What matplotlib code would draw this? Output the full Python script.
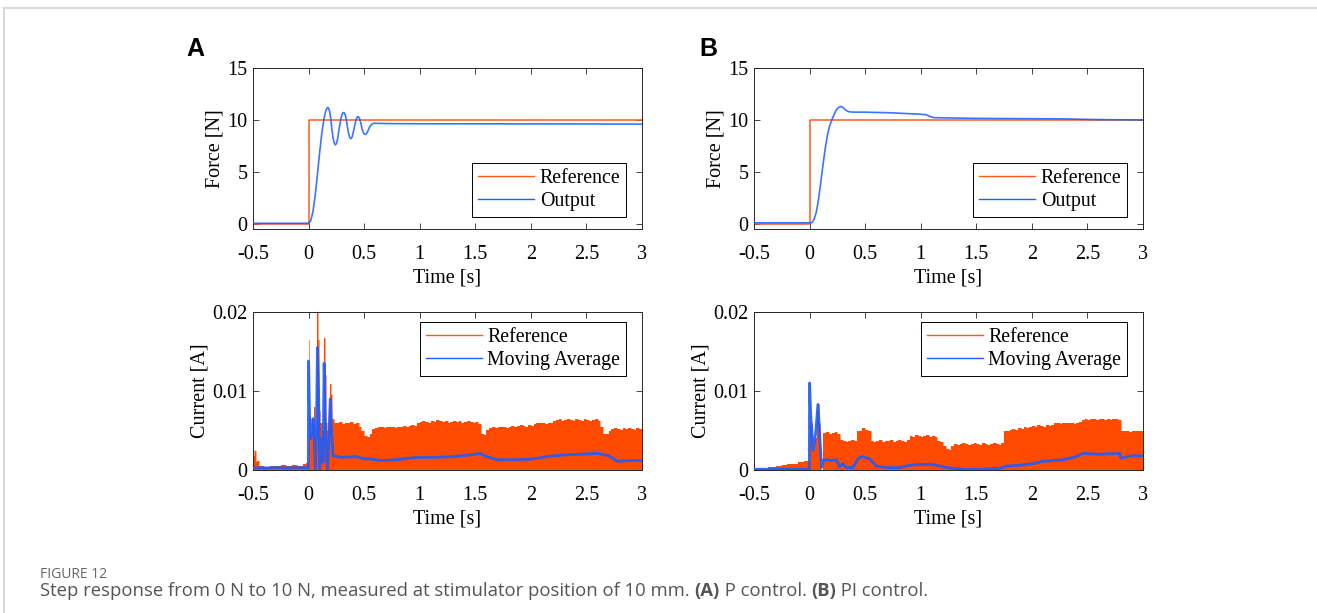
import numpy as np
import matplotlib
matplotlib.use("Agg")
import matplotlib.pyplot as plt
from matplotlib.lines import Line2D

# ---------------- data ----------------
x_ticks = [-0.5, 0, 0.5, 1, 1.5, 2, 2.5, 3]
x_ticklabels = ["-0.5", "0", "0.5", "1", "1.5", "2", "2.5", "3"]
force_ticks = [0, 5, 10, 15]
current_ticks = [0, 0.01, 0.02]
current_ticklabels = ["0", "0.01", "0.02"]

# force reference (step 0 N -> 10 N)
t_ref = [-0.5, 0.0, 0.0, 3.0]
f_ref = [0.0, 0.0, 10.0, 10.0]

# (A) P control force output
tA_force = [-0.5, 0.0, 0.02, 0.04, 0.06, 0.08, 0.10, 0.12, 0.14, 0.155, 0.17, 0.18,
            0.19, 0.20, 0.21, 0.22, 0.23, 0.24, 0.25, 0.26, 0.27, 0.28, 0.29, 0.30,
            0.31, 0.32, 0.33, 0.34, 0.35, 0.36, 0.37, 0.38, 0.39, 0.40, 0.41, 0.42,
            0.43, 0.44, 0.45, 0.46, 0.47, 0.48, 0.49, 0.50, 0.51, 0.52, 0.53, 0.54,
            0.55, 0.57, 0.59, 0.70, 1.0, 2.0, 3.0]
fA_force = [0.05, 0.05, 0.3, 1.2, 2.8, 4.8, 6.9, 8.8, 10.2, 10.9, 11.2, 11.15,
            10.8, 10.1, 9.1, 8.3, 7.8, 7.6, 7.7, 8.1, 8.8, 9.5, 10.1, 10.5,
            10.7, 10.7, 10.5, 10.0, 9.3, 8.7, 8.3, 8.2, 8.3, 8.7, 9.2, 9.7,
            10.1, 10.3, 10.3, 10.1, 9.7, 9.2, 8.85, 8.65, 8.6, 8.65, 8.85, 9.1,
            9.35, 9.6, 9.68, 9.65, 9.63, 9.62, 9.6]

# (B) PI control force output
tB_force = [-0.5, 0.0, 0.02, 0.04, 0.06, 0.08, 0.10, 0.12, 0.14, 0.16, 0.18, 0.20,
            0.22, 0.24, 0.26, 0.28, 0.30, 0.32, 0.34, 0.36, 0.40, 0.50, 0.60, 0.70,
            0.80, 0.90, 1.00, 1.05, 1.08, 1.12, 1.20, 1.50, 2.00, 2.30, 2.60, 3.00]
fB_force = [0.1, 0.1, 0.1, 0.4, 1.1, 2.3, 3.9, 5.6, 7.2, 8.5, 9.4, 10.0,
            10.5, 10.95, 11.2, 11.3, 11.2, 11.0, 10.85, 10.78, 10.75, 10.75, 10.72, 10.7,
            10.65, 10.6, 10.55, 10.5, 10.35, 10.22, 10.2, 10.15, 10.12, 10.1, 10.03, 10.0]

# (A) current reference envelope: trigger region + tail sampled every 0.025 s
tA_cur_head = [-0.5, -0.49, -0.48, -0.47, -0.46, -0.45, -0.40, -0.35, -0.30, -0.25,
               -0.20, -0.15, -0.10, -0.05, -0.02, 0.0, 0.005, 0.015, 0.025, 0.035,
               0.045, 0.055, 0.065, 0.075, 0.085, 0.095, 0.105, 0.115, 0.125, 0.135,
               0.145, 0.155, 0.165, 0.175, 0.185, 0.195, 0.205, 0.215, 0.225]
iA_cur_head = [0.0025, 0.0018, 0.0024, 0.0010, 0.0012, 0.0005, 0.0004, 0.0005, 0.0005, 0.0006,
               0.0005, 0.0006, 0.0005, 0.0008, 0.0009, 0.0165, 0.0070, 0.0045, 0.0050, 0.0065,
               0.0080, 0.0050, 0.0030, 0.0205, 0.0165, 0.0075, 0.0060, 0.0060, 0.0050, 0.0167,
               0.0120, 0.0060, 0.0050, 0.0055, 0.0080, 0.0109, 0.0095, 0.0065, 0.0060]
iA_cur_tail = [0.0059, 0.0061, 0.0058, 0.0060, 0.0059, 0.0061, 0.0058, 0.0060,
               0.0055, 0.0050, 0.0043, 0.0042, 0.0046,
               0.0052, 0.0053, 0.0054, 0.0055, 0.0053, 0.0054, 0.0055, 0.0054,
               0.0053, 0.0055, 0.0054, 0.0056, 0.0055, 0.0056, 0.0057, 0.0056,
               0.0060, 0.0061, 0.0062, 0.0061, 0.0060, 0.0062, 0.0061, 0.0063,
               0.0062, 0.0061, 0.0062, 0.0060, 0.0061, 0.0062, 0.0061, 0.0062,
               0.0060, 0.0061, 0.0062, 0.0061, 0.0060, 0.0061, 0.0058,
               0.0046, 0.0044,
               0.0051, 0.0053, 0.0054, 0.0053, 0.0054, 0.0055, 0.0054, 0.0053,
               0.0055, 0.0056, 0.0055, 0.0056, 0.0057, 0.0056, 0.0055, 0.0057, 0.0056,
               0.0058, 0.0059, 0.0060, 0.0059, 0.0058, 0.0060, 0.0059,
               0.0062, 0.0063, 0.0064, 0.0062, 0.0063, 0.0064, 0.0063, 0.0062,
               0.0064, 0.0063, 0.0062, 0.0064, 0.0063, 0.0062, 0.0063, 0.0064, 0.0062,
               0.0055, 0.0046, 0.0045,
               0.0050, 0.0052, 0.0053, 0.0052, 0.0051, 0.0053, 0.0052, 0.0053,
               0.0052, 0.0051, 0.0053, 0.0052, 0.0053]

# (A) current moving average
tA_avg = [-0.5, -0.4, -0.3, -0.2, -0.1, -0.002, 0.0, 0.01, 0.02, 0.03, 0.04, 0.05, 0.06,
          0.07, 0.08, 0.09, 0.10, 0.11, 0.12, 0.13, 0.14, 0.15, 0.16, 0.17, 0.18,
          0.195, 0.21, 0.22, 0.25, 0.3, 0.43, 0.5, 0.55, 0.65, 0.79, 0.9, 1.0, 1.15,
          1.3, 1.45, 1.54, 1.6, 1.7, 1.85, 2.02, 2.1, 2.2, 2.3, 2.45, 2.6, 2.7, 2.78,
          2.9, 3.0]
iA_avg = [0.0003, 0.00025, 0.0003, 0.00025, 0.0003, 0.0003, 0.0138, 0.006, 0.004, 0.005,
          0.0065, 0.005, 0.0, 0.004, 0.0155, 0.010, 0.0, 0.002, 0.004, 0.001, 0.0135,
          0.006, 0.002, 0.0, 0.003, 0.009, 0.004, 0.0018, 0.0017, 0.0016, 0.0017, 0.0014,
          0.0014, 0.0012, 0.0013, 0.0015, 0.0016, 0.0016, 0.0017, 0.0019, 0.0021, 0.0017,
          0.0013, 0.0013, 0.0014, 0.0016, 0.0018, 0.0019, 0.0020, 0.0021, 0.0018, 0.0011,
          0.0012, 0.0012]

# (B) current reference envelope
tB_cur_head = [-0.5, -0.37, -0.30, -0.25, -0.20, -0.15, -0.10, -0.05, -0.02, 0.0,
               0.008, 0.02, 0.035, 0.05, 0.065, 0.075, 0.085, 0.095, 0.105]
iB_cur_head = [0.0001, 0.0004, 0.0005, 0.0006, 0.0008, 0.0008, 0.0010, 0.0011, 0.0012, 0.0112,
               0.0060, 0.0035, 0.0025, 0.0040, 0.0075, 0.0083, 0.0060, 0.0020, 0.0000]
iB_cur_tail = [0.0047, 0.0048, 0.0046, 0.0047, 0.0048, 0.0046,
               0.0038, 0.0037, 0.0036, 0.0037, 0.0038, 0.0037,
               0.0049, 0.0050, 0.0053, 0.0051, 0.0050,
               0.0037, 0.0036, 0.0037, 0.0038, 0.0036, 0.0037, 0.0037, 0.0038,
               0.0036, 0.0037, 0.0038, 0.0037, 0.0036, 0.0038,
               0.0043, 0.0042, 0.0044, 0.0043, 0.0042, 0.0043, 0.0044, 0.0042, 0.0043, 0.0042,
               0.0037, 0.0036,
               0.0030, 0.0026, 0.0025,
               0.0031, 0.0033, 0.0032, 0.0033, 0.0034, 0.0033, 0.0032, 0.0033, 0.0034,
               0.0033, 0.0032, 0.0034, 0.0033, 0.0032, 0.0033, 0.0034, 0.0033, 0.0032, 0.0034,
               0.0049, 0.0050, 0.0051, 0.0052, 0.0051, 0.0053, 0.0052, 0.0054, 0.0053, 0.0054,
               0.0056, 0.0055, 0.0057, 0.0056, 0.0055, 0.0057, 0.0056, 0.0057,
               0.0059, 0.0060, 0.0058, 0.0059, 0.0060, 0.0059, 0.0060, 0.0058, 0.0059, 0.0061,
               0.0063, 0.0064, 0.0063, 0.0065, 0.0064, 0.0063, 0.0064, 0.0065, 0.0063, 0.0064,
               0.0063, 0.0065, 0.0064, 0.0063,
               0.0049, 0.0050, 0.0049, 0.0048, 0.0050, 0.0049, 0.0050, 0.0049, 0.0053]

# (B) current moving average
tB_avg = [-0.5, -0.2, -0.002, 0.0, 0.01, 0.02, 0.033, 0.045, 0.057, 0.075, 0.093, 0.108,
          0.123, 0.15, 0.2, 0.24, 0.27, 0.3, 0.33, 0.39, 0.44, 0.48, 0.54, 0.6, 0.69,
          0.81, 0.9, 0.99, 1.11, 1.2, 1.29, 1.41, 1.53, 1.71, 1.77, 1.89, 2.01, 2.1,
          2.19, 2.28, 2.4, 2.46, 2.61, 2.79, 2.8, 2.9, 3.0]
iB_avg = [0.0001, 0.0001, 0.0001, 0.0110, 0.0070, 0.0050, 0.0025, 0.0035, 0.0050, 0.0083,
          0.0040, 0.0003, 0.0012, 0.0013, 0.0012, 0.0013, 0.0004, 0.0008, 0.0003, 0.0003,
          0.0015, 0.0017, 0.0014, 0.0005, 0.0003, 0.0003, 0.0006, 0.0007, 0.0007, 0.0004,
          0.0002, 0.00005, 0.0001, 0.0002, 0.0005, 0.0006, 0.0008, 0.0011, 0.0012, 0.0013,
          0.0017, 0.0021, 0.0020, 0.0021, 0.0015, 0.0018, 0.0018]

# ---------------- style ----------------
ORANGE = "#FF4A00"
ORANGE_LINE = "#FF5A1A"
BLUE = "#1A5CFF"
SERIF = ["Liberation Serif", "DejaVu Serif"]
TICK_FS = 14.5
LEG_FS = 14.3

fig = plt.figure(figsize=(13.17, 6.13), dpi=100)
W, H = 1317, 613


def ax_rect(x0, y0, x1, y1):
    return [x0 / W, 1 - y1 / H, (x1 - x0) / W, (y1 - y0) / H]


axA1 = fig.add_axes(ax_rect(253, 68, 642, 229))
axB1 = fig.add_axes(ax_rect(754, 68, 1143, 229))
axA2 = fig.add_axes(ax_rect(253, 312, 642, 470))
axB2 = fig.add_axes(ax_rect(754, 312, 1143, 470))


def style(ax, yticks, yticklabels, ylim, ylabel):
    ax.set_xlim(-0.5, 3)
    ax.set_ylim(*ylim)
    ax.set_xticks(x_ticks)
    ax.set_xticklabels(x_ticklabels, fontfamily=SERIF, fontsize=TICK_FS)
    ax.set_yticks(yticks)
    ax.set_yticklabels(yticklabels, fontfamily=SERIF, fontsize=TICK_FS)
    ax.tick_params(direction="in", top=True, right=True, length=4, width=0.6,
                   color="#262626")
    ax.tick_params(axis="x", pad=11.5)
    ax.tick_params(axis="y", pad=4)
    for s in ax.spines.values():
        s.set_color("#262626")
        s.set_linewidth(0.7)
    ax.set_xlabel("Time [s]", fontfamily=SERIF, fontsize=TICK_FS, labelpad=3)
    ax.set_ylabel(ylabel, fontfamily=SERIF, fontsize=TICK_FS, labelpad=2)


def legend(ax, labels, anchor):
    handles = [Line2D([], [], color=ORANGE_LINE, lw=1.0),
               Line2D([], [], color=BLUE, lw=1.0)]
    leg = ax.legend(handles, labels, loc="upper right", bbox_to_anchor=anchor,
                    borderaxespad=0, prop={"family": SERIF, "size": LEG_FS},
                    handlelength=2.8, handletextpad=0.3, labelspacing=0.2,
                    borderpad=0.3, fancybox=False, framealpha=1, edgecolor="black")
    leg.get_frame().set_linewidth(0.7)


# force panels
for ax, tf, ff in [(axA1, tA_force, fA_force), (axB1, tB_force, fB_force)]:
    ax.plot(t_ref, f_ref, color=ORANGE_LINE, lw=1.1, zorder=2)
    ax.plot(tf, ff, color=BLUE, lw=1.2, alpha=0.85, zorder=3)
    style(ax, force_ticks, ["0", "5", "10", "15"], (-0.5, 15), "Force [N]")
    legend(ax, ["Reference", "Output"], (0.96, 0.41))

# current panels
tail_A_t = np.arange(len(iA_cur_tail)) * 0.025 + 0.25
tail_B_t = np.arange(len(iB_cur_tail)) * 0.025 + 0.125
for ax, th, ih, tt, it, ta, ia in [
        (axA2, tA_cur_head, iA_cur_head, tail_A_t, iA_cur_tail, tA_avg, iA_avg),
        (axB2, tB_cur_head, iB_cur_head, tail_B_t, iB_cur_tail, tB_avg, iB_avg)]:
    t_all = np.concatenate([th, tt, [3.0]])
    i_all = np.concatenate([ih, it, [it[-1]]])
    ax.fill_between(t_all, 0, i_all, step="post", color=ORANGE, lw=0, zorder=2)
    ax.step(t_all, i_all, where="post", color=ORANGE, lw=0.6, alpha=0.6, zorder=2)
    ax.plot(ta, ia, color=BLUE, lw=2.0, alpha=0.9, zorder=3)
    style(ax, current_ticks, current_ticklabels, (0, 0.02), "Current [A]")
    legend(ax, ["Reference", "Moving Average"], (0.96, 0.935))

# panel letters
fig.text(186 / W, 1 - 49 / H, "A", fontfamily=["Liberation Sans", "DejaVu Sans"],
         fontweight="bold", fontsize=18, va="center", ha="left")
fig.text(699 / W, 1 - 49 / H, "B", fontfamily=["Liberation Sans", "DejaVu Sans"],
         fontweight="bold", fontsize=18, va="center", ha="left")

# frame lines (top and left)
fig.add_artist(Line2D([4 / W, 1], [1 - 8 / H, 1 - 8 / H], color="#d9d9d9", lw=1.5))
fig.add_artist(Line2D([4 / W, 4 / W], [0, 1 - 8 / H], color="#d9d9d9", lw=1.5))

# caption
CAP_FONT = ["Open Sans", "DejaVu Sans"]
fig.text(40 / W, 1 - 574 / H, "FIGURE 12", fontfamily=CAP_FONT, fontsize=10,
         color="#666666", va="center", ha="left")
pieces = [("Step response from 0 N to 10 N, measured at stimulator position of 10 mm. ", "normal"),
          ("(A)", "bold"), (" P control. ", "normal"), ("(B)", "bold"), (" PI control.", "normal")]
renderer = fig.canvas.get_renderer()
x = 40
for txt, wt in pieces:
    tobj = fig.text(x / W, 1 - 591 / H, txt, fontfamily=CAP_FONT, fontsize=13.3,
                    fontweight=wt, color="#555555", va="center", ha="left")
    bb = tobj.get_window_extent(renderer)
    x = x + bb.width

fig.savefig("out.png", dpi=100)
